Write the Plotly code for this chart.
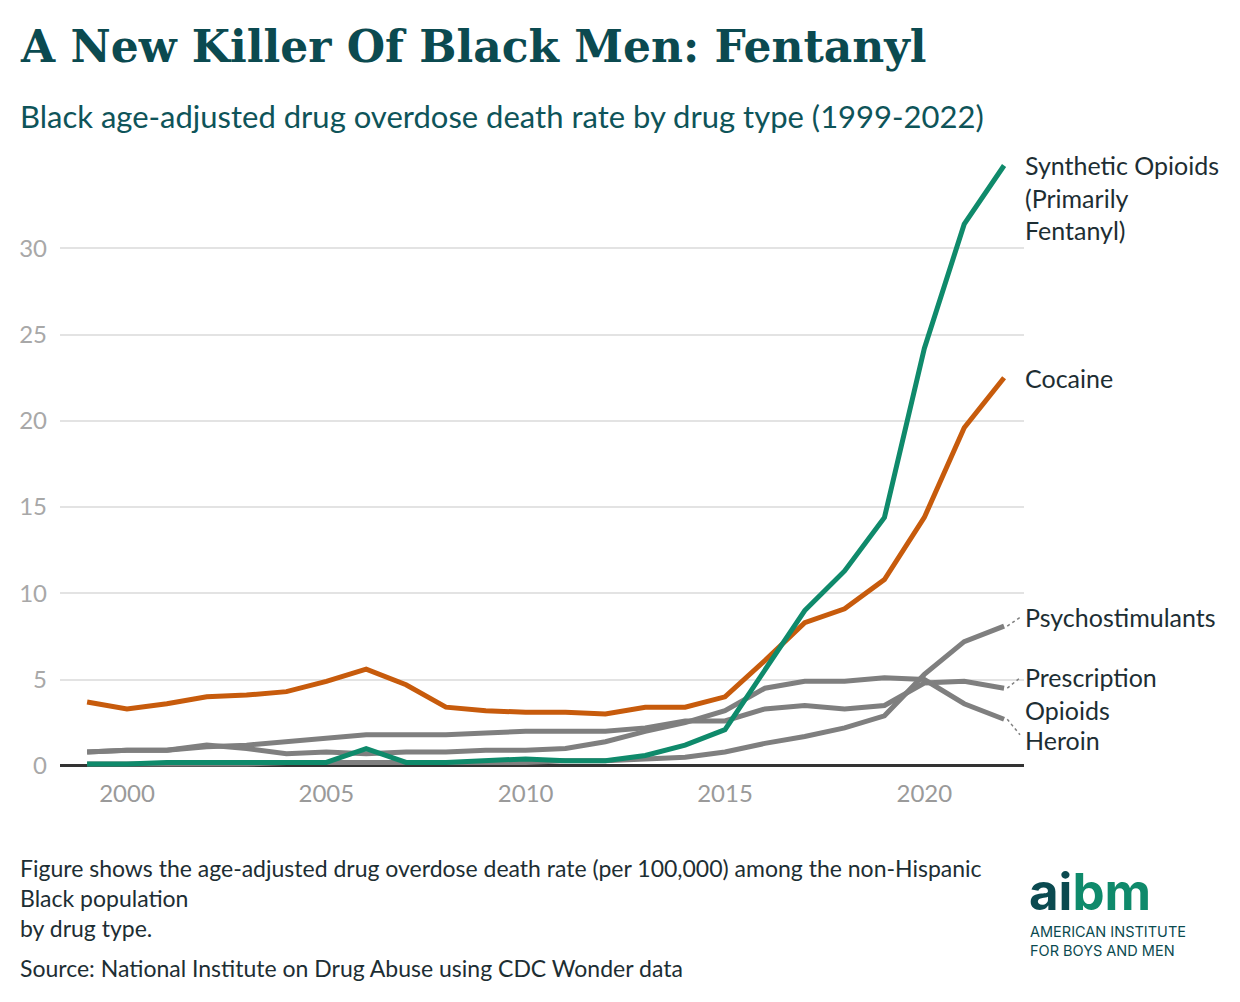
import plotly.graph_objects as go

# Black age-adjusted overdose death rate per 100,000, by drug type
years = list(range(1999, 2023))
synthetic = [0.1, 0.1, 0.2, 0.2, 0.2, 0.2, 0.2, 1.0, 0.2, 0.2, 0.3, 0.4,
             0.3, 0.3, 0.6, 1.2, 2.1, 5.6, 9.0, 11.3, 14.4, 24.2, 31.4, 34.8]
cocaine = [3.7, 3.3, 3.6, 4.0, 4.1, 4.3, 4.9, 5.6, 4.7, 3.4, 3.2, 3.1,
           3.1, 3.0, 3.4, 3.4, 4.0, 6.1, 8.3, 9.1, 10.8, 14.4, 19.6, 22.5]
psychostimulants = [0.1, 0.1, 0.1, 0.1, 0.1, 0.2, 0.2, 0.2, 0.2, 0.2, 0.2, 0.2,
                    0.3, 0.3, 0.4, 0.5, 0.8, 1.3, 1.7, 2.2, 2.9, 5.3, 7.2, 8.1]
prescription = [0.8, 0.9, 0.9, 1.1, 1.2, 1.4, 1.6, 1.8, 1.8, 1.8, 1.9, 2.0,
                2.0, 2.0, 2.2, 2.6, 2.6, 3.3, 3.5, 3.3, 3.5, 4.8, 4.9, 4.5]
heroin = [0.8, 0.9, 0.9, 1.2, 1.0, 0.7, 0.8, 0.7, 0.8, 0.8, 0.9, 0.9,
          1.0, 1.4, 2.0, 2.5, 3.2, 4.5, 4.9, 4.9, 5.1, 5.0, 3.6, 2.7]

GREEN = '#0f8a6b'
ORANGE = '#c75b0c'
GRAY = '#7f7f7f'
INK = '#1d2e33'
TEAL = '#0b4a50'
FONT = 'Lato'

# figure size and margins; the page adds an 8px body margin
W, H, OFF = 1232, 994, 8
L, R, T, B = 52, 216, 142, 231
plot_w, plot_h = W - L - R, H - T - B


def px(sx):
    return (sx - OFF - L) / plot_w


def py(sy):
    return 1 - (sy - OFF - T) / plot_h


fig = go.Figure()

# gray lines first, highlighted ones on top
for vals in [psychostimulants, prescription, heroin]:
    fig.add_trace(go.Scatter(x=years, y=vals, mode='lines',
                             line=dict(color=GRAY, width=5)))
fig.add_trace(go.Scatter(x=years, y=cocaine, mode='lines',
                         line=dict(color=ORANGE, width=5)))
fig.add_trace(go.Scatter(x=years, y=synthetic, mode='lines',
                         line=dict(color=GREEN, width=5)))

label_x = px(1023)
fig.add_annotation(x=label_x, y=synthetic[-1], yshift=18, yanchor='top',
                   text='Synthetic Opioids<br>(Primarily<br>Fentanyl)')
fig.add_annotation(x=label_x, y=cocaine[-1], yanchor='middle', text='Cocaine')
# labels for the gray lines, pulled apart with dotted leaders
gray_labels = [
    ('Psychostimulants', psychostimulants[-1], 8.65, 8.6),
    ('Prescription<br>Opioids', prescription[-1], 4.2, 5.1),
    ('Heroin', heroin[-1], 1.5, 1.8),
]
for text, end_val, lab_y, lead_y in gray_labels:
    fig.add_annotation(x=label_x, y=lab_y, yanchor='middle', text=text)
    fig.add_shape(type='line', x0=years[-1] + 0.08, y0=end_val,
                  x1=years[-1] + 0.4, y1=lead_y,
                  line=dict(color=GRAY, width=1.5, dash='dot'))
fig.update_annotations(xref='paper', yref='y', xanchor='left', showarrow=False,
                       align='left', font=dict(family=FONT, size=25, color=INK))

# title block and footer (paper coordinates)
fig.add_annotation(xref='paper', yref='paper', x=px(18), y=py(47),
                   xanchor='left', yanchor='middle', showarrow=False,
                   text='<b>A New Killer Of Black Men: Fentanyl</b>',
                   font=dict(family='DejaVu Serif', size=44, color=TEAL))
fig.add_annotation(xref='paper', yref='paper', x=px(18), y=py(116),
                   xanchor='left', yanchor='middle', showarrow=False,
                   text='Black age-adjusted drug overdose death rate by drug type (1999-2022)',
                   font=dict(family=FONT, size=31, color='#0e5459'))
fig.add_annotation(xref='paper', yref='paper', x=px(18), y=py(852),
                   xanchor='left', yanchor='top', showarrow=False, align='left',
                   text=('Figure shows the age-adjusted drug overdose death rate (per 100,000) '
                         'among the non-Hispanic<br>Black population<br>by drug type.'),
                   font=dict(family=FONT, size=23, color=INK))
fig.add_annotation(xref='paper', yref='paper', x=px(18), y=py(968),
                   xanchor='left', yanchor='middle', showarrow=False,
                   text='Source: National Institute on Drug Abuse using CDC Wonder data',
                   font=dict(family=FONT, size=23, color=INK))

# logo
fig.add_annotation(xref='paper', yref='paper', x=px(1027), y=py(891),
                   xanchor='left', yanchor='middle', showarrow=False,
                   text=f"<b><span style='color:{TEAL}'>ai</span>"
                        f"<span style='color:{GREEN}'>bm</span></b>",
                   font=dict(family='Inter', size=51))
fig.add_annotation(xref='paper', yref='paper', x=px(1028), y=py(941),
                   xanchor='left', yanchor='middle', showarrow=False, align='left',
                   text='AMERICAN INSTITUTE<br>FOR BOYS AND MEN',
                   font=dict(family='Inter', size=14.5, color=TEAL))

fig.update_layout(
    width=W, height=H,
    margin=dict(l=L, r=R, t=T, b=B),
    paper_bgcolor='white', plot_bgcolor='white',
    showlegend=False,
    xaxis=dict(range=[1998.32, 2022.5], tickvals=[2000, 2005, 2010, 2015, 2020],
               showgrid=False, zeroline=False, showline=False, ticks='',
               ticklabelstandoff=6,
               tickfont=dict(family=FONT, size=24, color='#9a9a9a')),
    yaxis=dict(range=[-0.3, 35.7], tickvals=[0, 5, 10, 15, 20, 25, 30],
               showgrid=True, gridcolor='#e3e3e3', gridwidth=1.5,
               zeroline=True, zerolinecolor='#333333', zerolinewidth=2.5,
               ticks='', ticklabelstandoff=12,
               tickfont=dict(family=FONT, size=24, color='#a8a8a8')),
)

fig.write_html('out.html')
